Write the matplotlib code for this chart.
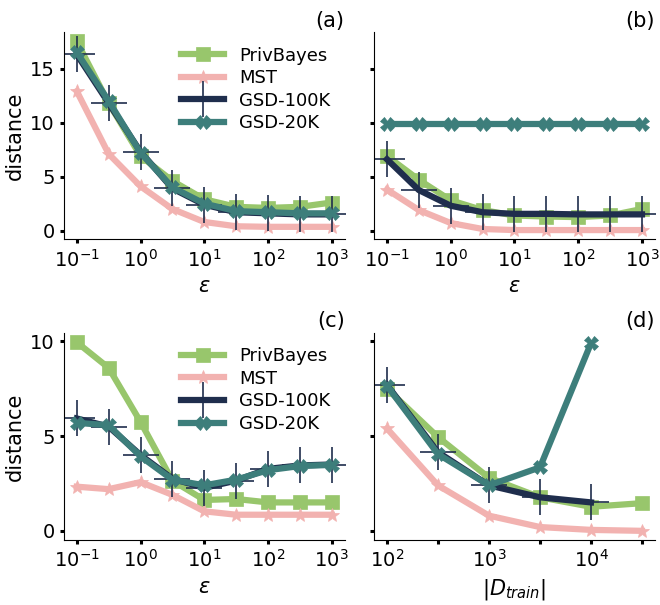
import numpy as np
import matplotlib
matplotlib.use("Agg")
import matplotlib.pyplot as plt

eps = [0.1, 0.316, 1, 3.16, 10, 31.6, 100, 316, 1000]
n_train = [100, 316, 1000, 3162, 10000, 31623]

# panel (a)
a_privbayes = [17.5, 11.8, 6.9, 4.6, 2.9, 2.2, 2.1, 2.2, 2.6]
a_mst = [12.9, 7.1, 4.1, 2.0, 0.8, 0.4, 0.35, 0.35, 0.35]
a_gsd100 = [16.3, 11.8, 7.3, 3.9, 2.4, 1.7, 1.6, 1.5, 1.5]
a_gsd20 = [16.5, 12.0, 7.2, 4.0, 2.5, 1.8, 1.7, 1.6, 1.6]

# panel (b)
b_privbayes = [6.9, 4.7, 2.8, 1.9, 1.4, 1.3, 1.25, 1.4, 2.0]
b_mst = [3.8, 1.9, 0.7, 0.15, 0.05, 0.05, 0.05, 0.05, 0.05]
b_gsd100 = [6.6, 3.75, 2.3, 1.7, 1.55, 1.55, 1.5, 1.5, 1.5]
b_gsd20 = [9.85, 9.85, 9.85, 9.85, 9.85, 9.85, 9.85, 9.85, 9.85]

# panel (c)
c_privbayes = [9.95, 8.6, 5.75, 2.65, 1.63, 1.68, 1.5, 1.5, 1.5]
c_mst = [2.33, 2.2, 2.57, 1.9, 1.03, 0.85, 0.85, 0.85, 0.85]
c_gsd100 = [5.93, 5.5, 4.0, 2.75, 2.27, 2.65, 3.27, 3.45, 3.5]
c_gsd20 = [5.7, 5.57, 3.93, 2.7, 2.4, 2.7, 3.2, 3.42, 3.48]

# panel (d)
d_privbayes = [7.5, 4.95, 2.8, 1.77, 1.27, 1.46]
d_mst = [5.4, 2.4, 0.8, 0.2, 0.05, 0.0]
d_gsd100 = [7.7, 4.15, 2.4, 1.77, 1.5]
d_gsd20 = [7.65, 4.05, 2.4, 3.35, 9.9]

names = ["PrivBayes", "MST", "GSD-100K", "GSD-20K"]
colors = ["#98C66C", "#F2B2B0", "#1F2E4D", "#3D7E7B"]
markers = ["s", "*", "+", "X"]
msizes = [9.5, 10, 26, 9.5]

plt.rcParams["font.size"] = 13


def draw(ax, x, series):
    for i, y in enumerate(series):
        xs = x[:len(y)]
        ax.plot(xs, y, color=colors[i], marker=markers[i], markersize=msizes[i],
                lw=4.5, label=names[i],
                markeredgewidth=1.2 if markers[i] == "+" else 0.5)
    ax.set_xscale("log")
    ax.spines["top"].set_visible(False)
    ax.spines["right"].set_visible(False)
    ax.tick_params(length=3, width=2.2, color="black", labelsize=14)


fig, axes = plt.subplots(2, 2, figsize=(6.6, 6.05), dpi=100, sharey="row")
plt.subplots_adjust(left=0.097, right=0.992, top=0.947, bottom=0.107,
                    wspace=0.106, hspace=0.45)

draw(axes[0, 0], eps, [a_privbayes, a_mst, a_gsd100, a_gsd20])
draw(axes[0, 1], eps, [b_privbayes, b_mst, b_gsd100, b_gsd20])
draw(axes[1, 0], eps, [c_privbayes, c_mst, c_gsd100, c_gsd20])
draw(axes[1, 1], n_train, [d_privbayes, d_mst, d_gsd100, d_gsd20])

for ax in axes[:, 0]:
    ax.set_xticks([0.1, 1, 10, 100, 1000])
    ax.set_xticks([], minor=True)
    ax.set_ylabel("distance", fontsize=15)
    ax.set_xlabel(r"$\epsilon$", fontsize=15)
    ax.legend(loc="upper right", frameon=False, numpoints=1,
              handlelength=2.4, fontsize=13, borderaxespad=0.4,
              labelspacing=0.25)
axes[0, 1].set_xticks([0.1, 1, 10, 100, 1000])
axes[0, 1].set_xticks([], minor=True)
axes[0, 1].set_xlabel(r"$\epsilon$", fontsize=15)
axes[1, 1].set_xticks(n_train)
axes[1, 1].set_xticklabels(["$10^2$", "", "$10^3$", "", "$10^4$", ""])
axes[1, 1].set_xticks([], minor=True)
axes[1, 1].set_xlabel(r"$|D_{train}|$", fontsize=15)

axes[0, 0].set_yticks([0, 5, 10, 15])
axes[1, 0].set_yticks([0, 5, 10])
for ax in axes[:, 1]:
    ax.tick_params(labelleft=False)

for ax, lab in zip(axes.flat, ["(a)", "(b)", "(c)", "(d)"]):
    ax.set_title(lab, loc="right", fontsize=15, pad=4)

fig.savefig("out.png")
